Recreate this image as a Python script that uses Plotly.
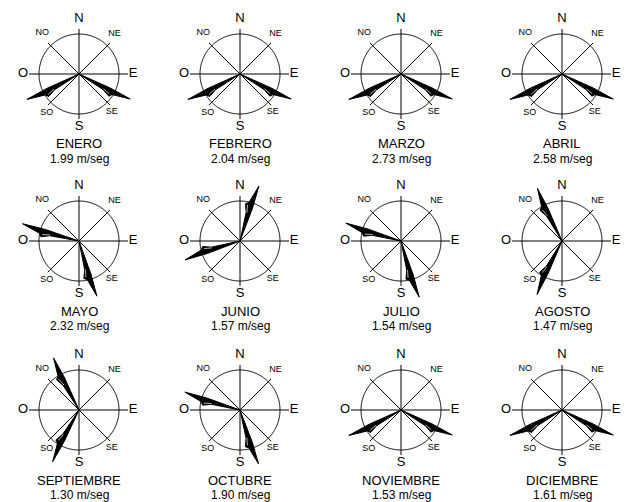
import numpy as np
import plotly.graph_objects as go

# Monthly wind roses: two dominant directions per month and mean speed
months = ["ENERO", "FEBRERO", "MARZO", "ABRIL", "MAYO", "JUNIO",
          "JULIO", "AGOSTO", "SEPTIEMBRE", "OCTUBRE", "NOVIEMBRE", "DICIEMBRE"]
speeds = [1.99, 2.04, 2.73, 2.58, 2.32, 1.57, 1.54, 1.47, 1.30, 1.90, 1.53, 1.61]

# bearings in degrees clockwise from north
dir_primary = [244, 244, 244, 244, 287, 19, 288, 335, 334, 288, 244, 244]
dir_secondary = [116, 116, 116, 116, 162, 251, 162, 205, 207, 161, 116, 116]
len_primary = [58, 58, 58, 58, 59, 58, 58, 58, 58, 58, 58, 58]
len_secondary = [57, 57, 57, 57, 58, 58, 59, 59, 58, 57, 57, 57]

compass = ["N", "NE", "E", "SE", "S", "SO", "O", "NO"]
compass_deg = [0, 45, 90, 135, 180, 225, 270, 315]

W, H = 624, 502
HALF = 60                      # half size of each rose panel, px
RING = 40                      # compass ring radius
col_x = [79, 240, 401, 562]
row_y = [74, 241, 410]

FONT = "Arial, Liberation Sans, sans-serif"

# barbed-arrow outline, along-axis u / across-axis v (fractions of length)
arrow_u = np.array([0, 0.50, 0.64, 0.68, 1.0, 0.60, 0])
arrow_v = np.array([0, 0.06, 0.12, 0.07, 0, -0.02, 0])
sliver_u = np.array([0.50, 0.63])
sliver_v = np.array([0.045, 0.08])

spoke_len = {"N": 45, "S": 45, "E": 49, "O": 50}
label_pos = {"N": (55, 0), "E": (54, 90), "S": (53, 180), "O": (56, 270),
             "NE": (54, 41), "NO": (55, 318), "SE": (50, 139), "SO": (50, 220)}
label_size = {"N": 13, "E": 13, "S": 13, "O": 13}

fig = go.Figure()
ring_t = np.linspace(0, 360, 361)


def polar_arrow(bearing, length, side, u, v):
    r = length * np.hypot(u, v)
    t = bearing + side * np.degrees(np.arctan2(v, u))
    return r, t


for i, m in enumerate(months):
    cx = col_x[i % 4]
    cy = row_y[i // 4]
    sp = "polar" if i == 0 else f"polar{i + 1}"

    fig.update_layout({sp: dict(
        domain=dict(x=[(cx - HALF) / W, (cx + HALF) / W],
                    y=[(H - cy - HALF) / H, (H - cy + HALF) / H]),
        bgcolor="white",
        radialaxis=dict(range=[0, HALF], visible=False),
        angularaxis=dict(rotation=90, direction="clockwise", visible=False),
    )})

    # ring
    fig.add_trace(go.Scatterpolar(r=[RING] * len(ring_t), theta=ring_t, mode="lines",
                                  line=dict(color="black", width=1), subplot=sp,
                                  hoverinfo="skip", showlegend=False))
    # spokes
    for name, deg in zip(compass, compass_deg):
        L = spoke_len.get(name, 44)
        fig.add_trace(go.Scatterpolar(r=[0, L], theta=[deg, deg], mode="lines",
                                      line=dict(color="black", width=1), subplot=sp,
                                      hoverinfo="skip", showlegend=False))
    # direction labels
    for name in compass:
        rr, tt = label_pos[name]
        fig.add_trace(go.Scatterpolar(
            r=[rr], theta=[tt], mode="text", text=[name], cliponaxis=False,
            textfont=dict(family=FONT, size=label_size.get(name, 9), color="black"),
            subplot=sp, hoverinfo="skip", showlegend=False))
    # wind arrows
    for bearing, length, side in ((dir_primary[i], len_primary[i], -1),
                                  (dir_secondary[i], len_secondary[i], 1)):
        r, t = polar_arrow(bearing, length, side, arrow_u, arrow_v)
        fig.add_trace(go.Scatterpolar(r=r, theta=t, mode="lines", fill="toself",
                                      fillcolor="black", cliponaxis=False,
                                      line=dict(color="black", width=1),
                                      subplot=sp, hoverinfo="skip", showlegend=False))
        r, t = polar_arrow(bearing, length, side, sliver_u, sliver_v)
        fig.add_trace(go.Scatterpolar(r=r, theta=t, mode="lines", cliponaxis=False,
                                      line=dict(color="white", width=0.7),
                                      subplot=sp, hoverinfo="skip", showlegend=False))

    fig.add_annotation(x=cx / W, y=(H - cy - 70) / H, xref="paper", yref="paper",
                       text=m, showarrow=False, xanchor="center", yanchor="middle",
                       font=dict(family=FONT, size=13, color="black"))
    fig.add_annotation(x=cx / W, y=(H - cy - 85) / H, xref="paper", yref="paper",
                       text=f"{speeds[i]:.2f} m/seg", showarrow=False,
                       xanchor="center", yanchor="middle",
                       font=dict(family=FONT, size=12, color="black"))

fig.update_layout(width=W, height=H, margin=dict(l=0, r=0, t=0, b=0),
                  paper_bgcolor="white", plot_bgcolor="white", showlegend=False)

fig.write_html("out.html", config={"displayModeBar": False})
